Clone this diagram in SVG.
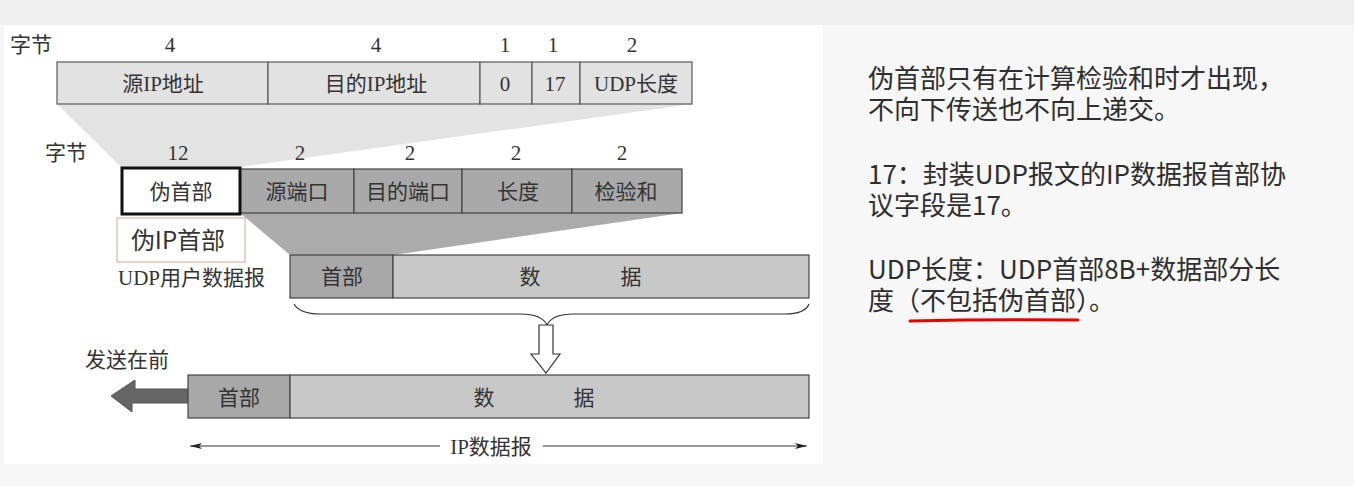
<svg xmlns="http://www.w3.org/2000/svg" width="1354" height="486" viewBox="0 0 1354 486">
<defs>
<style>
.d{font-family:'Liberation Serif','Noto Sans CJK SC',serif;font-size:21px;fill:#333;text-anchor:middle}
.dl{font-family:'Liberation Serif','Noto Sans CJK SC',serif;font-size:21px;fill:#333}
.r1{fill:#e2e2e2;stroke:#5a5a5a;stroke-width:1.2}
.r2{fill:#a9a9a9;stroke:#444;stroke-width:1.2}
.hd{fill:#a8a8a8;stroke:#444;stroke-width:1.2}
.dt{fill:#c8c8c8;stroke:#444;stroke-width:1.2}
.note{font-family:'Noto Sans CJK SC',sans-serif;font-size:26px;fill:#2e2e2e}
</style>
<marker id="ah" viewBox="0 0 12 6" refX="12" refY="3" markerWidth="12" markerHeight="6" markerUnits="userSpaceOnUse" orient="auto-start-reverse">
<path d="M0,0 L12,3 L0,6 L3,3 Z" fill="#222"/>
</marker>
</defs>
<rect x="0" y="0" width="1354" height="486" fill="#f7f7f7"/>
<rect x="0" y="0" width="1354" height="25" fill="#efefef"/>
<rect x="4" y="25" width="819" height="439" fill="#ffffff"/>

<g id="fans">
<polygon points="57,104 692,104 240,167 121,167" fill="#e3e3e3"/>
<polygon points="240,213 682,213 393,255 290,255" fill="#ababab"/>
</g>

<g id="row1">
<text class="dl" x="10" y="52">字节</text>
<text class="d" x="170" y="52">4</text>
<text class="d" x="376" y="52">4</text>
<text class="d" x="505" y="52">1</text>
<text class="d" x="553" y="52">1</text>
<text class="d" x="632" y="52">2</text>
<rect class="r1" x="57" y="62" width="211" height="42"/>
<rect class="r1" x="268" y="62" width="212" height="42"/>
<rect class="r1" x="480" y="62" width="52" height="42"/>
<rect class="r1" x="532" y="62" width="48" height="42"/>
<rect class="r1" x="580" y="62" width="112" height="42"/>
<text class="d" x="163" y="91">源IP地址</text>
<text class="d" x="376" y="91">目的IP地址</text>
<text class="d" x="505" y="91">0</text>
<text class="d" x="555" y="91">17</text>
<text class="d" x="636" y="91">UDP长度</text>
</g>

<g id="row2">
<text class="dl" x="45" y="160">字节</text>
<text class="d" x="178" y="160">12</text>
<text class="d" x="300" y="160">2</text>
<text class="d" x="410" y="160">2</text>
<text class="d" x="516" y="160">2</text>
<text class="d" x="622" y="160">2</text>
<rect class="r2" x="240" y="169" width="114" height="44"/>
<rect class="r2" x="354" y="169" width="108" height="44"/>
<rect class="r2" x="462" y="169" width="110" height="44"/>
<rect class="r2" x="572" y="169" width="110" height="44"/>
<rect x="122" y="168" width="118" height="46" fill="#ffffff" stroke="#111" stroke-width="3"/>
<text class="d" x="181" y="199">伪首部</text>
<text class="d" x="297" y="199">源端口</text>
<text class="d" x="408" y="199">目的端口</text>
<text class="d" x="518" y="199">长度</text>
<text class="d" x="626" y="199">检验和</text>
</g>

<g id="pseudo-label">
<rect x="117" y="218" width="128" height="44" fill="#ffffff" stroke="#d8a68e" stroke-width="1"/>
<text x="178" y="249" font-family="'Noto Sans CJK SC',sans-serif" font-size="24" fill="#333" text-anchor="middle">伪IP首部</text>
</g>

<g id="udp">
<text class="dl" x="118" y="285" font-size="23">UDP用户数据报</text>
<rect class="hd" x="290" y="255" width="103" height="43"/>
<rect class="dt" x="393" y="255" width="416" height="43"/>
<text class="d" x="342" y="284">首部</text>
<text class="d" x="530" y="284">数</text>
<text class="d" x="631" y="284">据</text>
</g>

<g id="connectors">
<path d="M294,304 Q300,314 320,314 L520,314 Q542,314 547,325 Q552,314 574,314 L785,314 Q805,314 809,304" fill="none" stroke="#333" stroke-width="1.2"/>
<polygon points="539,325 553,325 553,354 560,354 546,373 531,354 539,354" fill="#ffffff" stroke="#333" stroke-width="1.2"/>
<polygon points="188,389 135,389 135,380 111,396 132,412 132,403 188,403" fill="#666" stroke="#555" stroke-width="1"/>
<line x1="190" y1="446" x2="440" y2="446" stroke="#333" stroke-width="1" marker-start="url(#ah)"/>
<line x1="543" y1="446" x2="807" y2="446" stroke="#333" stroke-width="1" marker-end="url(#ah)"/>
</g>

<g id="ipdatagram">
<text class="dl" x="85" y="367">发送在前</text>
<rect class="hd" x="188" y="375" width="102" height="43"/>
<rect class="dt" x="290" y="375" width="519" height="43"/>
<text class="d" x="239" y="405">首部</text>
<text class="d" x="484" y="405">数</text>
<text class="d" x="584" y="405">据</text>
<text class="d" x="491" y="454" font-size="24">IP数据报</text>
</g>

<g id="notes">
<text class="note" x="868" y="88">伪首部只有在计算检验和时才出现，</text>
<text class="note" x="868" y="119">不向下传送也不向上递交。</text>
<text class="note" x="868" y="184">17：封装UDP报文的IP数据报首部协</text>
<text class="note" x="868" y="215">议字段是17。</text>
<text class="note" x="868" y="279">UDP长度：UDP首部8B+数据部分长</text>
<text class="note" x="868" y="310">度（不包括伪首部）。</text>
<path d="M910,321 Q990,319 1078,320" fill="none" stroke="#e60000" stroke-width="3" stroke-linecap="round"/>
</g>
</svg>
